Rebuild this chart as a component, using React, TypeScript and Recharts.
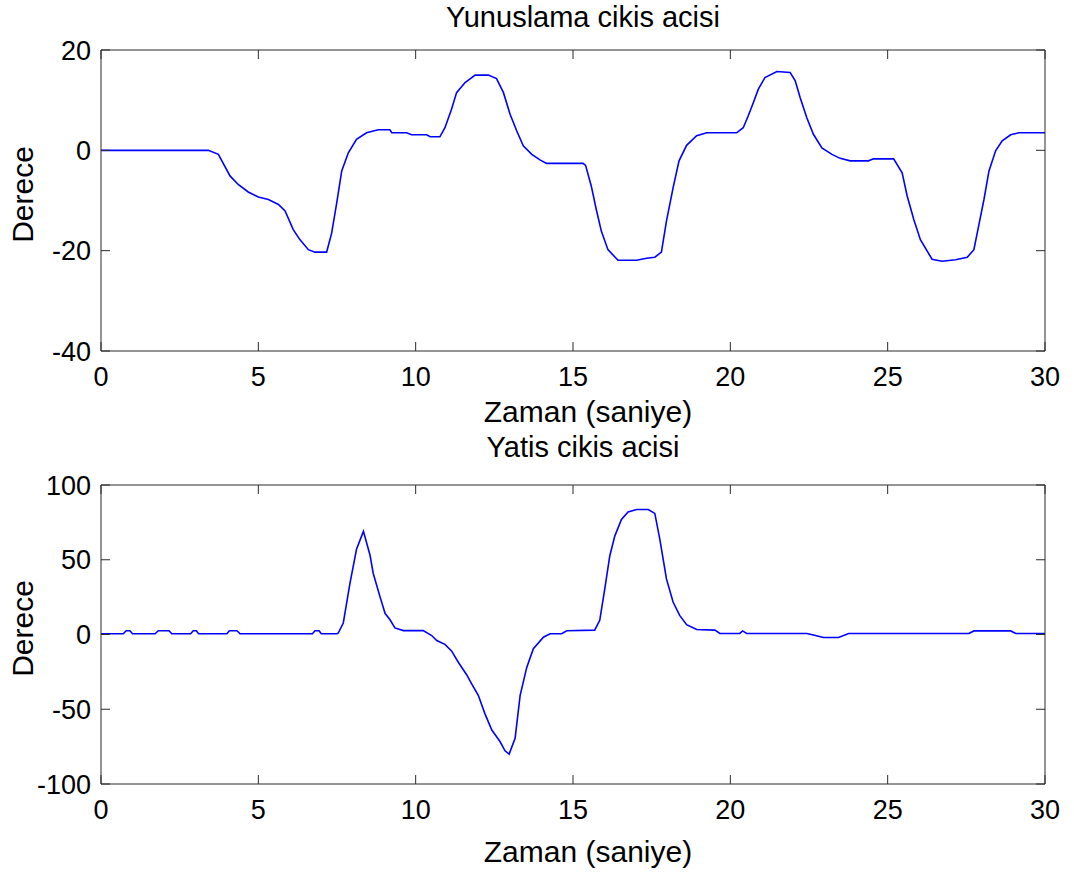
import React from "react";
import { LineChart, Line, XAxis, YAxis, Label } from "recharts";

// time (s) and angle (deg)
const pitchTime = [
  0, 3.41, 3.73, 4.1, 4.36, 4.68, 5.0, 5.32, 5.64, 5.85, 6.11, 6.32, 6.59, 6.8, 7.17, 7.33, 7.49, 7.65, 7.86,
  8.12, 8.44, 8.81, 9.18, 9.24, 9.71, 9.87, 10.35, 10.46, 10.77, 10.93, 11.14, 11.3, 11.57, 11.89, 12.31,
  12.57, 12.79, 13.0, 13.21, 13.42, 13.69, 13.95, 14.16, 15.32, 15.4, 15.58, 15.74, 15.9, 16.11, 16.43,
  17.02, 17.34, 17.6, 17.81, 17.97, 18.18, 18.37, 18.61, 18.93, 19.25, 20.2, 20.41, 20.57, 20.73, 20.89,
  21.1, 21.48, 21.9, 22.06, 22.22, 22.43, 22.64, 22.91, 23.23, 23.49, 23.81, 24.39, 24.55, 25.19, 25.46,
  25.62, 25.83, 26.04, 26.41, 26.73, 27.16, 27.53, 27.74, 27.9, 28.06, 28.22, 28.43, 28.64, 28.91, 29.17, 30,
];
const pitchDeg = [
  0, 0, -0.8, -5.1, -6.8, -8.3, -9.3, -9.8, -10.8, -12.1, -15.8, -17.8, -19.8, -20.3, -20.3, -16.5, -10.5,
  -4.1, -0.5, 2.2, 3.5, 4.1, 4.1, 3.5, 3.5, 3.1, 3.1, 2.7, 2.7, 4.5, 8.2, 11.5, 13.5, 15, 15, 14.3, 11.5,
  7.2, 3.9, 0.9, -0.8, -1.9, -2.6, -2.6, -3, -7.1, -11.8, -16.1, -19.8, -21.9, -21.9, -21.5, -21.3, -20.3,
  -14.1, -7.5, -2.1, 1, 2.9, 3.5, 3.5, 4.5, 6.9, 9.5, 12.2, 14.5, 15.7, 15.5, 13.9, 10.5, 6.5, 3.2, 0.5,
  -0.8, -1.6, -2.1, -2.1, -1.7, -1.7, -4.5, -9.1, -13.8, -17.8, -21.7, -22.1, -21.8, -21.3, -19.8, -14.8,
  -9.8, -4.1, -0.1, 1.9, 3.1, 3.5, 3.5,
];

const rollTime = [
  0, 0.71, 0.8, 0.92, 1.0, 1.72, 1.82, 2.16, 2.25, 2.85, 2.93, 3.03, 3.1, 4.0, 4.08, 4.32, 4.42, 6.72, 6.8,
  6.93, 7.0, 7.5, 7.54, 7.7, 7.91, 8.12, 8.34, 8.55, 8.65, 8.87, 9.03, 9.18, 9.34, 9.61, 10.24, 10.51,
  10.67, 10.93, 11.14, 11.36, 11.62, 11.78, 11.99, 12.2, 12.42, 12.68, 12.84, 12.97, 13.16, 13.32, 13.53,
  13.74, 14.06, 14.27, 14.64, 14.8, 15.69, 15.85, 16.01, 16.17, 16.33, 16.54, 16.75, 17.02, 17.39, 17.6,
  17.76, 17.97, 18.18, 18.39, 18.61, 18.93, 19.51, 19.67, 20.3, 20.39, 20.52, 22.43, 22.64, 22.96, 23.44,
  23.76, 27.58, 27.74, 28.91, 29.07, 30,
];
const rollDeg = [
  0.5, 0.5, 2.5, 2.5, 0.5, 0.5, 2.5, 2.5, 0.5, 0.5, 2.5, 2.5, 0.5, 0.5, 2.5, 2.5, 0.5, 0.5, 2.5, 2.5, 0.5,
  0.5, 1, 7.7, 34, 57, 69, 53, 41, 25, 14, 10, 4.4, 2.6, 2.6, -0.7, -4, -6.6, -11, -18.7, -26.9, -33, -40.7,
  -52.9, -63.9, -71.6, -77.8, -80, -69.4, -40.7, -22, -9.5, -1.8, 0.5, 0.5, 2.5, 2.9, 9.5, 30.5, 52.7, 66,
  77, 81.9, 83.6, 83.6, 81, 63.7, 37.2, 21.7, 12.8, 6.6, 3.3, 2.9, 0.7, 0.7, 2.4, 0.7, 0.7, -0.4, -2, -2,
  0.7, 0.7, 2.4, 2.4, 0.7, 0.7,
];

const timeTicks = [0, 5, 10, 15, 20, 25, 30];
const pitchTicks = [-40, -20, 0, 20];
const rollTicks = [-100, -50, 0, 50, 100];

const FONT = "'Liberation Sans', Arial, Helvetica, sans-serif";
const AXIS = "#2b2b2b";
const TICK_LEN = 9;
const X_GAP = 16;
const Y_GAP = 10;

const pitchData = pitchTime.map((t, i) => ({ t, v: pitchDeg[i] }));
const rollData = rollTime.map((t, i) => ({ t, v: rollDeg[i] }));

const labelStyle = { fontSize: 30, fontFamily: FONT, fill: "#000" };
const titleStyle = { fontSize: 29, fontFamily: FONT, fill: "#000" };
const tickText = { fontSize: 27, fontFamily: FONT, fill: "#000" };

// MATLAB-style ticks point into the plot box
const BottomTick = ({ x, y, payload }: any) => (
  <g>
    <line x1={x} x2={x} y1={y - X_GAP} y2={y - X_GAP - TICK_LEN} stroke={AXIS} />
    <text x={x} y={y} dy="0.71em" textAnchor="middle" {...tickText}>
      {payload.value}
    </text>
  </g>
);
const LeftTick = ({ x, y, payload }: any) => (
  <g>
    <line x1={x + Y_GAP} x2={x + Y_GAP + TICK_LEN} y1={y} y2={y} stroke={AXIS} />
    <text x={x} y={y} dy="0.355em" textAnchor="end" {...tickText}>
      {payload.value}
    </text>
  </g>
);
const TopTick = ({ x, y }: any) => (
  <line x1={x} x2={x} y1={y} y2={y + TICK_LEN} stroke={AXIS} />
);
const RightTick = ({ x, y }: any) => (
  <line x1={x} x2={x - TICK_LEN} y1={y} y2={y} stroke={AXIS} />
);

function Panel({
  data,
  title,
  yDomain,
  yTicks,
  height,
  marginTop,
  xAxisHeight,
  titleDy,
  xLabelDy,
}: {
  data: { t: number; v: number }[];
  title: string;
  yDomain: [number, number];
  yTicks: number[];
  height: number;
  marginTop: number;
  xAxisHeight: number;
  titleDy: number;
  xLabelDy: number;
}) {
  return (
    <LineChart
      width={1074}
      height={height}
      data={data}
      margin={{ top: marginTop, right: 28, left: 1, bottom: 0 }}
      style={{ overflow: "visible" }}
    >
      <XAxis
        dataKey="t"
        type="number"
        domain={[0, 30]}
        ticks={timeTicks}
        interval={0}
        allowDataOverflow
        height={xAxisHeight}
        tickSize={0}
        tickMargin={X_GAP}
        tickLine={false}
        tick={<BottomTick />}
        stroke={AXIS}
      >
        <Label
          content={({ viewBox }: any) => (
            <text
              x={viewBox.x + viewBox.width / 2 + 15}
              y={viewBox.y + xLabelDy}
              textAnchor="middle"
              {...labelStyle}
            >
              Zaman (saniye)
            </text>
          )}
        />
      </XAxis>
      <XAxis
        xAxisId="top"
        orientation="top"
        dataKey="t"
        type="number"
        domain={[0, 30]}
        ticks={timeTicks}
        interval={0}
        allowDataOverflow
        height={1}
        tickSize={0}
        tickMargin={0}
        tickLine={false}
        tick={<TopTick />}
        stroke={AXIS}
      >
        <Label
          content={({ viewBox }: any) => (
            <text
              x={viewBox.x + viewBox.width / 2 + 10}
              y={viewBox.y + titleDy}
              textAnchor="middle"
              {...titleStyle}
            >
              {title}
            </text>
          )}
        />
      </XAxis>
      <YAxis
        type="number"
        domain={yDomain}
        ticks={yTicks}
        interval={0}
        allowDataOverflow
        width={100}
        tickSize={0}
        tickMargin={Y_GAP}
        tickLine={false}
        tick={<LeftTick />}
        stroke={AXIS}
      >
        <Label
          content={({ viewBox }: any) => {
            const x = 33;
            const y = viewBox.y + viewBox.height / 2 - 6;
            return (
              <text x={x} y={y} transform={`rotate(-90 ${x} ${y})`} textAnchor="middle" {...labelStyle}>
                Derece
              </text>
            );
          }}
        />
      </YAxis>
      <YAxis
        yAxisId="right"
        orientation="right"
        type="number"
        domain={yDomain}
        ticks={yTicks}
        interval={0}
        allowDataOverflow
        width={1}
        tickSize={0}
        tickMargin={0}
        tickLine={false}
        tick={<RightTick />}
        stroke={AXIS}
      />
      <Line
        type="linear"
        dataKey="v"
        stroke="#0000ff"
        strokeWidth={1.6}
        dot={false}
        isAnimationActive={false}
      />
    </LineChart>
  );
}

export default function App() {
  return (
    <div
      style={{
        position: "absolute",
        left: 0,
        top: 0,
        width: 1074,
        height: 876,
        background: "#fff",
      }}
    >
      <Panel
        data={pitchData}
        title="Yunuslama cikis acisi"
        yDomain={[-40, 20]}
        yTicks={pitchTicks}
        height={430}
        marginTop={49}
        xAxisHeight={79}
        titleDy={-22}
        xLabelDy={71}
      />
      <Panel
        data={rollData}
        title="Yatis cikis acisi"
        yDomain={[-100, 100]}
        yTicks={rollTicks}
        height={446}
        marginTop={54}
        xAxisHeight={92}
        titleDy={-27}
        xLabelDy={78}
      />
    </div>
  );
}
